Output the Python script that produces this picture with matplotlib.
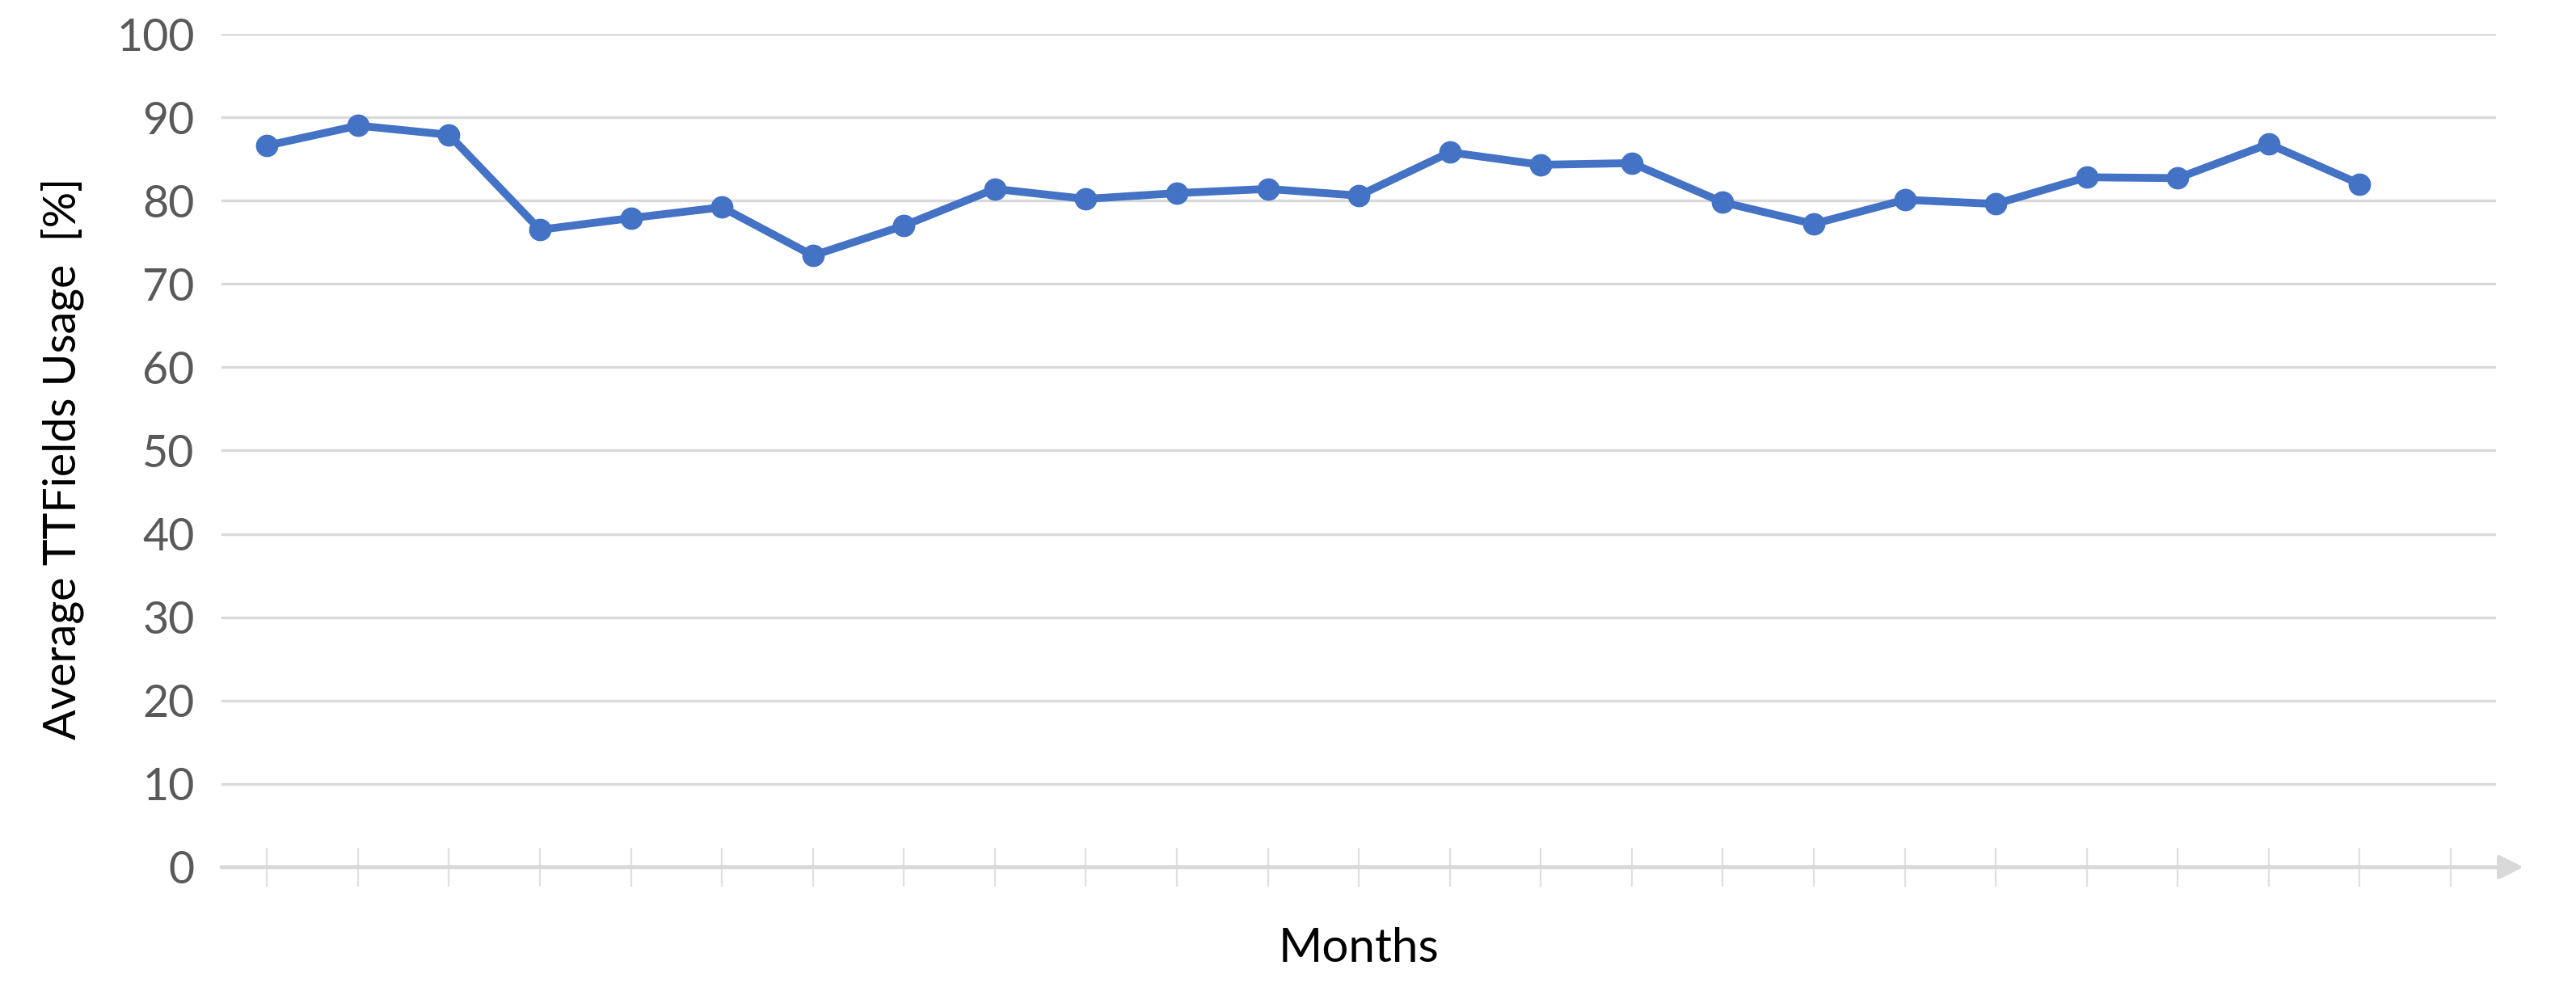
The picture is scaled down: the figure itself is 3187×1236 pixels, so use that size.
import matplotlib
matplotlib.use("Agg")
import matplotlib.pyplot as plt

plt.rcParams['font.family'] = ['Lato', 'DejaVu Sans']

months = list(range(24))
usage = [86.6, 89.0, 87.9, 76.5, 77.9, 79.2, 73.4, 77.0, 81.4, 80.2, 80.9, 81.4,
         80.6, 85.8, 84.3, 84.5, 79.8, 77.2, 80.1, 79.6, 82.8, 82.7, 86.8, 82.0]
yticks = [0, 10, 20, 30, 40, 50, 60, 70, 80, 90, 100]
xticks = list(range(25))

fig = plt.figure(figsize=(31.87, 12.36), dpi=100)
ax = fig.add_axes([0.086, 0.132, 0.883, 0.834])

line_color = '#4472C4'
grid_color = '#d9d9d9'

ax.plot(months, usage, color=line_color, lw=7, marker='o', markersize=19,
        zorder=3, solid_joinstyle='round')

ax.set_xlim(-0.5, 24.5)
ax.set_ylim(0, 100)
ax.set_yticks(yticks)
ax.set_yticklabels([str(v) for v in yticks])
for v in yticks[1:]:
    ax.axhline(v, color=grid_color, lw=2.4, zorder=1)

for s in ax.spines.values():
    s.set_visible(False)

ax.set_xticks(xticks)
ax.set_xticklabels([''] * len(xticks))
ax.tick_params(axis='x', direction='inout', length=34, width=1.6, color='#e0e0e0')
ax.tick_params(axis='y', length=0, pad=24, labelsize=40, labelcolor='#595959')

ax.annotate('', xy=(1.012, 0), xytext=(0, 0), xycoords='axes fraction',
            textcoords='axes fraction',
            arrowprops=dict(arrowstyle='-|>', color=grid_color, lw=3.5,
                            mutation_scale=45, shrinkA=0, shrinkB=0),
            annotation_clip=False, zorder=2)

ax.set_ylabel('Average TTFields Usage  [%]', fontsize=40, color='black')
ax.yaxis.label.set_va('center')
ax.yaxis.set_label_coords(-0.070, 0.49)
ax.set_xlabel('Months', fontsize=42, color='black')
ax.xaxis.label.set_va('center')
ax.xaxis.set_label_coords(0.50, -0.098)

fig.savefig('out.png', dpi=100, facecolor='white')
